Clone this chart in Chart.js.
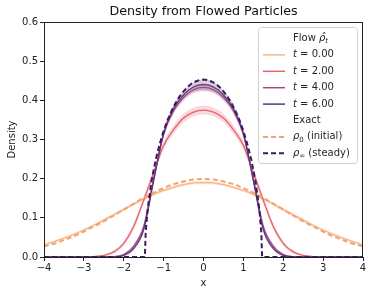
<!DOCTYPE html>
<html>
<head>
<meta charset="utf-8">
<script src="https://cdn.jsdelivr.net/npm/chart.js@4.4.1/dist/chart.umd.min.js"></script>
<style>
  html, body { margin: 0; padding: 0; background: #fff; }
  #wrap { width: 372px; height: 295px; }
</style>
</head>
<body>
<div id="wrap"><canvas id="densityChart"></canvas></div>
<script>
// grid for the particle-flow estimates
const xs = [-4,-3.75,-3.5,-3.25,-3,-2.75,-2.5,-2.25,-2,-1.75,-1.5,-1.25,-1,-0.75,-0.5,-0.25,0,0.25,0.5,0.75,1,1.25,1.5,1.75,2,2.25,2.5,2.75,3,3.25,3.5,3.75,4];

const flowT0 = [0.031,0.039,0.048,0.058,0.069,0.081,0.094,0.108,0.121,0.135,0.148,0.160,0.170,0.178,0.185,0.189,0.190,0.189,0.185,0.178,0.170,0.160,0.148,0.135,0.121,0.108,0.094,0.081,0.069,0.058,0.048,0.039,0.031];
const flowT2 = [0,0,0,0,0,0.001,0.004,0.013,0.035,0.078,0.145,0.215,0.285,0.325,0.355,0.370,0.375,0.370,0.355,0.325,0.285,0.215,0.145,0.078,0.035,0.013,0.004,0.001,0,0,0,0,0];
const flowT4 = [0,0,0,0,0,0,0,0.001,0.006,0.028,0.078,0.200,0.313,0.374,0.408,0.427,0.433,0.427,0.408,0.374,0.313,0.200,0.078,0.028,0.006,0.001,0,0,0,0,0,0,0];
const flowT6 = [0,0,0,0,0,0,0,0,0.004,0.022,0.070,0.195,0.316,0.379,0.414,0.434,0.440,0.434,0.414,0.379,0.316,0.195,0.070,0.022,0.004,0,0,0,0,0,0,0,0];

// half width of the shaded band round each estimate
const spreadT0 = [0.003,0.003,0.003,0.003,0.003,0.003,0.004,0.004,0.004,0.004,0.004,0.004,0.004,0.004,0.004,0.004,0.004,0.004,0.004,0.004,0.004,0.004,0.004,0.004,0.004,0.004,0.004,0.003,0.003,0.003,0.003,0.003,0.003];
const spreadT2 = [0,0,0,0,0,0.001,0.002,0.004,0.006,0.008,0.009,0.010,0.010,0.011,0.011,0.011,0.011,0.011,0.011,0.011,0.010,0.010,0.009,0.008,0.006,0.004,0.002,0.001,0,0,0,0,0];
const spreadT4 = [0,0,0,0,0,0,0,0.001,0.002,0.004,0.006,0.008,0.008,0.008,0.009,0.009,0.010,0.009,0.009,0.008,0.008,0.008,0.006,0.004,0.002,0.001,0,0,0,0,0,0,0];
const spreadT6 = [0,0,0,0,0,0,0,0,0.002,0.004,0.006,0.008,0.009,0.010,0.011,0.012,0.014,0.012,0.011,0.010,0.009,0.008,0.006,0.004,0.002,0,0,0,0,0,0,0,0];

// exact densities
const rho0 = [0.027,0.034,0.043,0.053,0.065,0.078,0.091,0.106,0.121,0.136,0.151,0.164,0.176,0.186,0.193,0.198,0.199,0.198,0.193,0.186,0.176,0.164,0.151,0.136,0.121,0.106,0.091,0.078,0.065,0.053,0.043,0.034,0.027];
const rhoInfX = [-4,-1.47,-1.45,-1.4,-1.3,-1.2,-1.1,-1,-0.9,-0.8,-0.7,-0.6,-0.5,-0.4,-0.3,-0.2,-0.1,0,0.1,0.2,0.3,0.4,0.5,0.6,0.7,0.8,0.9,1,1.1,1.2,1.3,1.4,1.45,1.47,4];
const rhoInf = [0,0,0.062,0.123,0.196,0.248,0.288,0.322,0.350,0.373,0.393,0.410,0.423,0.434,0.443,0.448,0.452,0.453,0.452,0.448,0.443,0.434,0.423,0.410,0.393,0.373,0.350,0.322,0.288,0.248,0.196,0.123,0.062,0,0];

const xTicks = [-4,-3,-2,-1,0,1,2,3,4];
const yTicks = [0.0,0.1,0.2,0.3,0.4,0.5,0.6];

const flowSeries = [
  {label: '0.00', vals: flowT0, spread: spreadT0, color: '#f8b58b', band: 'rgba(248,181,139,0.35)'},
  {label: '2.00', vals: flowT2, spread: spreadT2, color: '#e5636b', band: 'rgba(229,99,107,0.25)'},
  {label: '4.00', vals: flowT4, spread: spreadT4, color: '#a4467f', band: 'rgba(164,70,127,0.25)'},
  {label: '6.00', vals: flowT6, spread: spreadT6, color: '#5a3779', band: 'rgba(90,55,121,0.25)'}
];
const rho0Color = '#f2a46f';
const rhoInfColor = '#3f1a5e';
const titleText = 'Density from Flowed Particles';

const FONT = '"DejaVu Sans", sans-serif';

function pts(x, y) { return x.map((v, i) => ({x: v, y: y[i]})); }

let datasets = [];
// exact curves on top
datasets.push({label: 'rhoInf', data: pts(rhoInfX, rhoInf), borderColor: rhoInfColor, borderWidth: 2,
  borderDash: [5, 3], pointRadius: 0, tension: 0, order: 0, fill: false});
datasets.push({label: 'rho0', data: pts(xs, rho0), borderColor: rho0Color, borderWidth: 2,
  borderDash: [5, 3], pointRadius: 0, cubicInterpolationMode: 'monotone', order: 1, fill: false});

flowSeries.forEach((s, k) => {
  datasets.push({label: 't' + s.label, data: pts(xs, s.vals), borderColor: s.color, borderWidth: 1.3,
    pointRadius: 0, cubicInterpolationMode: 'monotone', order: 5 - k, fill: false});
});
flowSeries.forEach((s, k) => {
  const upIdx = datasets.length;
  datasets.push({label: 'up' + k, data: pts(xs, s.vals.map((v, i) => v + s.spread[i])),
    borderWidth: 0, borderColor: 'rgba(0,0,0,0)', pointRadius: 0, cubicInterpolationMode: 'monotone',
    order: 10 + k, fill: false});
  datasets.push({label: 'lo' + k, data: pts(xs, s.vals.map((v, i) => Math.max(0, v - s.spread[i]))),
    borderWidth: 0, borderColor: 'rgba(0,0,0,0)', pointRadius: 0, cubicInterpolationMode: 'monotone',
    order: 10 + k, fill: upIdx, backgroundColor: s.band});
});

// text with italic / subscript pieces
function rich(ctx, x, y, parts) {
  parts.forEach(p => {
    ctx.font = (p.it ? 'italic ' : '') + (p.sub ? 7 : 10) + 'px ' + FONT;
    ctx.fillText(p.t, x, y + (p.sub ? 3 : 0));
    x += ctx.measureText(p.t).width;
  });
}

const frameAndLegend = {
  id: 'frameAndLegend',
  afterDraw(chart) {
    const ctx = chart.ctx;
    const a = chart.chartArea;
    ctx.save();
    ctx.strokeStyle = '#222';
    ctx.lineWidth = 1;
    ctx.strokeRect(Math.round(a.left) + 0.5, Math.round(a.top) + 0.5, Math.round(a.right - a.left) - 1, Math.round(a.bottom - a.top));

    // title over the plot area
    ctx.fillStyle = '#111';
    ctx.font = '12.7px ' + FONT;
    ctx.textAlign = 'center';
    ctx.textBaseline = 'middle';
    ctx.fillText(titleText, (a.left + a.right) / 2, 12);
    ctx.textAlign = 'left';

    // legend box
    const bx = 258.5, by = 27.5, bw = 99, bh = 136;
    ctx.beginPath();
    ctx.roundRect(bx, by, bw, bh, 3);
    ctx.fillStyle = 'rgba(255,255,255,0.8)';
    ctx.fill();
    ctx.strokeStyle = '#d0d0d0';
    ctx.stroke();

    const lx0 = 263, lx1 = 285, tx = 293, step = 16.4;
    let y = 38.5;
    ctx.fillStyle = '#262626';
    rich(ctx, tx, y, [{t: 'Flow '}, {t: 'ρ\u0302', it: true}, {t: 't', it: true, sub: true}]);
    flowSeries.forEach(s => {
      y += step;
      ctx.beginPath();
      ctx.setLineDash([]);
      ctx.strokeStyle = s.color;
      ctx.lineWidth = 1.5;
      ctx.moveTo(lx0, y); ctx.lineTo(lx1, y); ctx.stroke();
      ctx.fillStyle = '#262626';
      rich(ctx, tx, y, [{t: 't', it: true}, {t: ' = ' + s.label}]);
    });
    y += step;
    rich(ctx, tx, y, [{t: 'Exact'}]);
    const exact = [
      {color: rho0Color, parts: [{t: 'ρ', it: true}, {t: '0', sub: true}, {t: ' (initial)'}]},
      {color: rhoInfColor, parts: [{t: 'ρ', it: true}, {t: '∞', sub: true}, {t: ' (steady)'}]}
    ];
    exact.forEach(e => {
      y += step;
      ctx.beginPath();
      ctx.setLineDash([5, 3]);
      ctx.strokeStyle = e.color;
      ctx.lineWidth = 2;
      ctx.moveTo(lx0, y); ctx.lineTo(lx1, y); ctx.stroke();
      ctx.setLineDash([]);
      ctx.fillStyle = '#262626';
      rich(ctx, tx, y, e.parts);
    });
    ctx.restore();
  }
};

const tickFont = {family: FONT, size: 10};

new Chart(document.getElementById('densityChart'), {
  type: 'line',
  data: {datasets: datasets},
  options: {
    responsive: true,
    maintainAspectRatio: false,
    animation: false,
    events: [],
    layout: {padding: {left: 0, right: 9, top: 22, bottom: 0}},
    plugins: {
      legend: {display: false},
      tooltip: {enabled: false},
      title: {display: false}
    },
    scales: {
      x: {
        type: 'linear',
        min: -4, max: 4,
        afterFit: s => { s.height = 38; },
        afterBuildTicks: s => { s.ticks = xTicks.map(v => ({value: v})); },
        ticks: {
          font: tickFont, color: '#222', padding: 1, maxRotation: 0,
          callback: v => String(v).replace('-', '\u2212')
        },
        grid: {display: true, drawOnChartArea: false, drawTicks: true, tickLength: 4, color: '#222'},
        border: {display: false},
        title: {display: true, text: 'x', color: '#222', font: {family: FONT, size: 10}, padding: {top: 0, bottom: 6}}
      },
      y: {
        min: 0, max: 0.6,
        afterFit: s => { s.width = 44; },
        afterBuildTicks: s => { s.ticks = yTicks.map(v => ({value: v})); },
        ticks: {
          font: tickFont, color: '#222', padding: 2,
          callback: v => v.toFixed(1)
        },
        grid: {display: true, drawOnChartArea: false, drawTicks: true, tickLength: 4, color: '#222'},
        border: {display: false},
        title: {display: true, text: 'Density', color: '#222', font: {family: FONT, size: 10}, padding: {top: 6, bottom: 0}}
      }
    }
  },
  plugins: [frameAndLegend]
});
</script>
</body>
</html>
